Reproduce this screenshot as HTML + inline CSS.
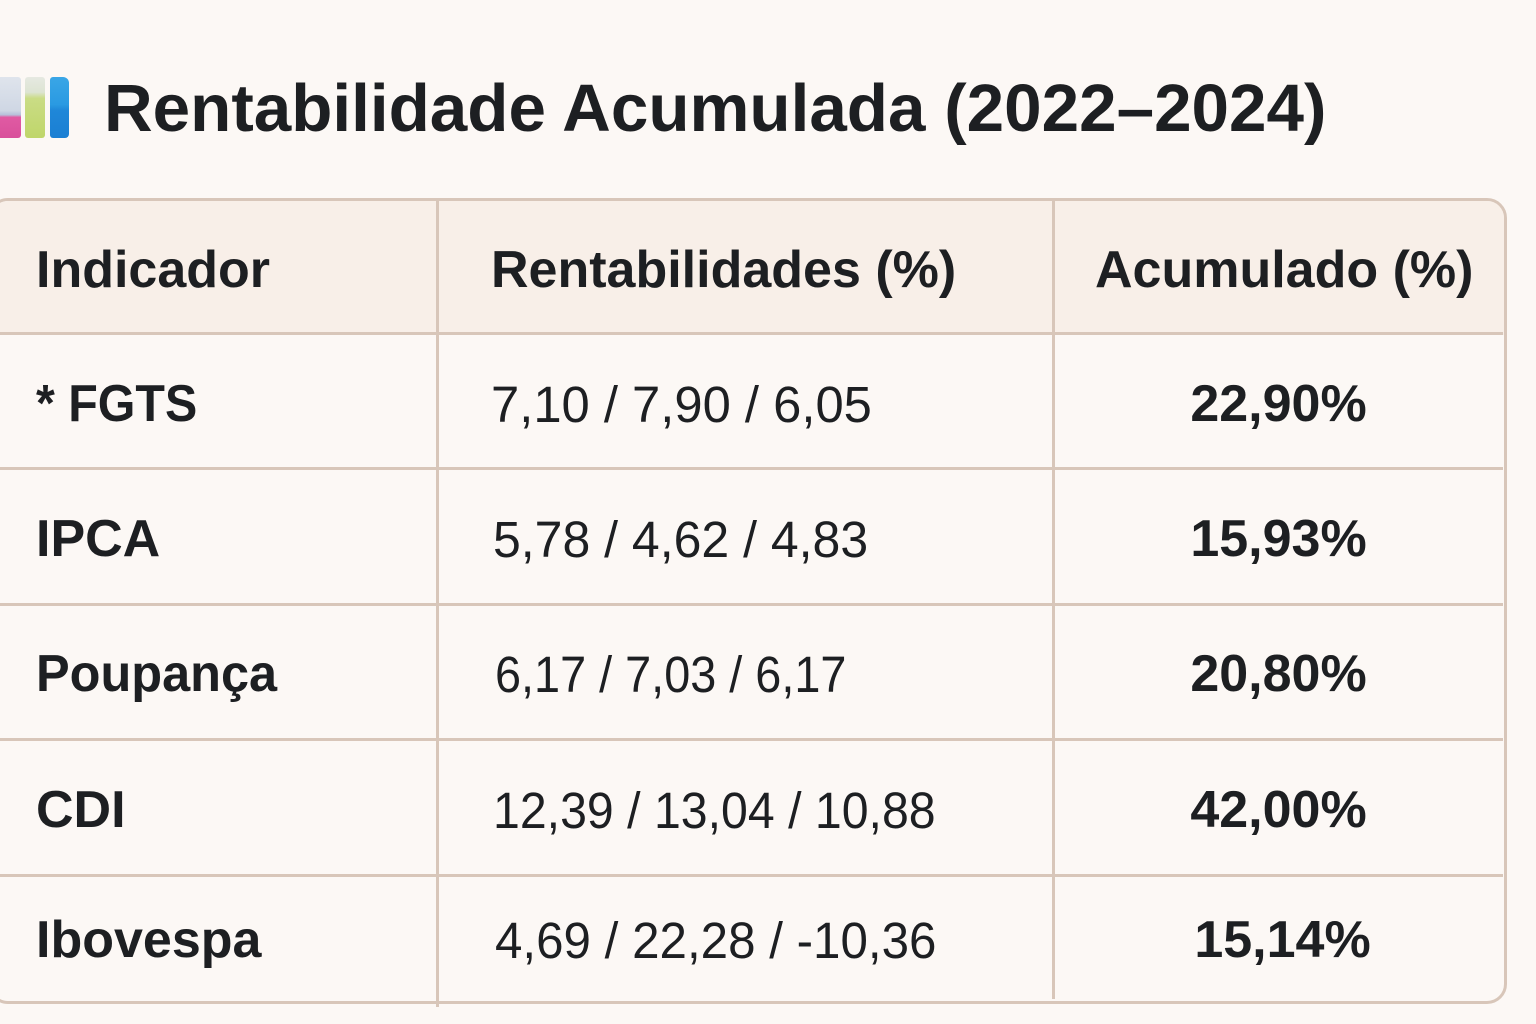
<!DOCTYPE html>
<html>
<head>
<meta charset="utf-8">
<style>
  html,body{margin:0;padding:0;}
  body{width:1536px;height:1024px;background:#fcf8f5;position:relative;overflow:hidden;font-family:"Liberation Sans",Arial,sans-serif;color:#1d1f22;}
  .t{position:absolute;white-space:nowrap;line-height:1;transform-origin:0 50%;}
  .b{font-weight:bold;}
  .hl{position:absolute;height:3px;background:#d8c6b9;}
  .vl{position:absolute;width:3px;background:#d8c6b9;}
</style>
</head>
<body>
<!-- icon -->
<div style="position:absolute;left:0;top:77px;width:21px;height:61px;border-radius:0 3px 3px 0;background:linear-gradient(180deg,#dfe4ec 0%,#cfd7e4 55%,#b7c0da 62%,#e05aa3 66%,#d9509b 100%);"></div>
<div style="position:absolute;left:25px;top:77px;width:20px;height:61px;border-radius:3px;background:linear-gradient(180deg,#e6e9e2 0%,#dde4d2 25%,#cadc85 35%,#bfd66a 100%);"></div>
<div style="position:absolute;left:50px;top:77px;width:19px;height:61px;border-radius:3px 6px 4px 3px;background:linear-gradient(180deg,#3aa6e6 0%,#2a9ae2 45%,#1f87d8 55%,#1b7fd3 100%);"></div>

<div class="t b" style="left:104px;top:75px;font-size:67px;transform:scaleX(1.006);">Rentabilidade Acumulada (2022–2024)</div>

<!-- table box -->
<div style="position:absolute;left:-12px;top:198px;width:1513px;height:800px;border:3px solid #d8c6b9;border-radius:20px;background:#fcf8f5;overflow:hidden;">
  <div style="position:absolute;left:0;top:0;width:100%;height:134px;background:#f8efe8;"></div>
</div>
<div class="hl" style="left:0;top:332px;width:1503px;"></div>
<div class="hl" style="left:0;top:467px;width:1503px;"></div>
<div class="hl" style="left:0;top:603px;width:1503px;"></div>
<div class="hl" style="left:0;top:738px;width:1503px;"></div>
<div class="hl" style="left:0;top:874px;width:1503px;"></div>
<div class="vl" style="left:436px;top:200px;height:807px;"></div>
<div class="vl" style="left:1052px;top:200px;height:799px;"></div>

<!-- header -->
<div class="t b" style="left:36px;top:244px;font-size:52px;">Indicador</div>
<div class="t b" style="left:491px;top:244px;font-size:52px;">Rentabilidades (%)</div>
<div class="t b" style="left:1095px;top:244px;font-size:52px;">Acumulado (%)</div>

<!-- rows -->
<div class="t b" style="left:36px;top:378px;font-size:52px;transform:scaleX(0.93);">* FGTS</div>
<div class="t" style="left:491px;top:379px;font-size:51px;transform:scaleX(0.995);">7,10 / 7,90 / 6,05</div>
<div class="t b" style="left:1054px;width:449px;text-align:center;top:378px;font-size:52px;">22,90%</div>

<div class="t b" style="left:36px;top:513px;font-size:52px;">IPCA</div>
<div class="t" style="left:493px;top:514px;font-size:51px;transform:scaleX(0.98);">5,78 / 4,62 / 4,83</div>
<div class="t b" style="left:1054px;width:449px;text-align:center;top:513px;font-size:52px;">15,93%</div>

<div class="t b" style="left:36px;top:648px;font-size:52px;transform:scaleX(0.97);">Poupança</div>
<div class="t" style="left:495px;top:649px;font-size:51px;transform:scaleX(0.918);">6,17 / 7,03 / 6,17</div>
<div class="t b" style="left:1054px;width:449px;text-align:center;top:648px;font-size:52px;">20,80%</div>

<div class="t b" style="left:36px;top:784px;font-size:52px;">CDI</div>
<div class="t" style="left:493px;top:785px;font-size:51px;transform:scaleX(0.946);">12,39 / 13,04 / 10,88</div>
<div class="t b" style="left:1054px;width:449px;text-align:center;top:784px;font-size:52px;">42,00%</div>

<div class="t b" style="left:36px;top:914px;font-size:52px;">Ibovespa</div>
<div class="t" style="left:495px;top:915px;font-size:51px;transform:scaleX(0.967);">4,69 / 22,28 / -10,36</div>
<div class="t b" style="left:1058px;width:449px;text-align:center;top:914px;font-size:52px;">15,14%</div>
</body>
</html>
